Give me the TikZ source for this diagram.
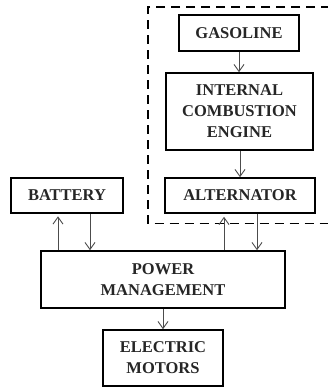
\documentclass[tikz,border=0pt]{standalone}
\usepackage{fontspec}
\setmainfont{Liberation Serif}
\usetikzlibrary{arrows.meta}
\begin{document}
\begin{tikzpicture}[x=1pt,y=-1pt,
  blk/.style={draw=black,line width=1.6pt,inner sep=0pt,align=center,
    font=\fontsize{16.5}{21}\selectfont\bfseries,text=black!85},
  flow/.style={draw=black!70,line width=0.9pt,-{Straight Barb[length=7pt,width=10pt,line width=0.9pt]}}]
\useasboundingbox (0,0) rectangle (328,388);
\fill[white] (0,0) rectangle (328,388);
\draw[line width=1.8pt,dash pattern=on 9pt off 6pt] (345,7) -- (148,7) -- (148,223.5) -- (345,223.5);
\node[blk,minimum width=120pt,minimum height=36pt] (gas) at (239,33) {GASOLINE};
\node[blk,minimum width=147pt,minimum height=77pt] (ice) at (239.5,111.5) {INTERNAL\\COMBUSTION\\ENGINE};
\node[blk,minimum width=150pt,minimum height=35pt] (alt) at (240,195.5) {ALTERNATOR};
\node[blk,minimum width=112pt,minimum height=35pt] (bat) at (67,195.5) {BATTERY};
\node[blk,minimum width=244pt,minimum height=57pt] (pm) at (163,279.5) {POWER\\MANAGEMENT};
\node[blk,minimum width=120pt,minimum height=56pt] (em) at (163,358) {ELECTRIC\\MOTORS};
\draw[flow] (gas.south) -- (gas.south |- ice.north);
\draw[flow] (ice.south -| alt.north) -- (alt.north);
\draw[flow] (pm.south) -- (em.north);
\draw[flow] (pm.north -| 58,0) -- ([yshift=-2.5pt]bat.south -| 58,0);
\draw[flow] (bat.south -| 90,0) -- (pm.north -| 90,0);
\draw[flow] (pm.north -| 224,0) -- ([yshift=-3pt]alt.south -| 224,0);
\draw[flow] (alt.south -| 257,0) -- (pm.north -| 257,0);
\end{tikzpicture}
\end{document}
